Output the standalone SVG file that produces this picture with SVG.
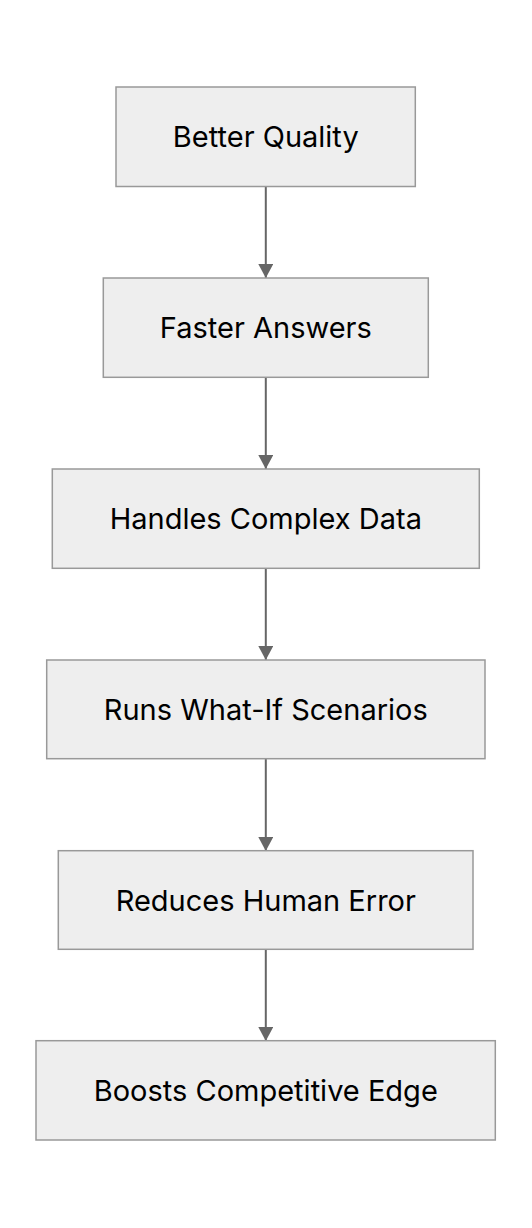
<svg xmlns="http://www.w3.org/2000/svg" width="532" height="1228" viewBox="0 0 532 1228">
<style>
.node rect{fill:#eeeeee;stroke:#999999;stroke-width:1.5}
.node text{font-family:Inter,"Noto Sans","Liberation Sans",sans-serif;font-size:29px;fill:#000000;text-anchor:middle}
.edge{stroke:#666666;stroke-width:2;fill:none}
</style>
<defs>
<marker id="arrow" markerUnits="userSpaceOnUse" markerWidth="16" markerHeight="16" refX="14" refY="7.5" orient="auto">
<path d="M0,0 L14,7.5 L0,15 Z" fill="#666666"/>
</marker>
</defs>
<rect width="532" height="1228" fill="#ffffff"/>
<g id="connectors">
<line class="edge" x1="265.8" y1="187" x2="265.8" y2="278" marker-end="url(#arrow)"/>
<line class="edge" x1="265.8" y1="378" x2="265.8" y2="469" marker-end="url(#arrow)"/>
<line class="edge" x1="265.8" y1="568.5" x2="265.8" y2="660" marker-end="url(#arrow)"/>
<line class="edge" x1="265.8" y1="759" x2="265.8" y2="851" marker-end="url(#arrow)"/>
<line class="edge" x1="265.8" y1="949.5" x2="265.8" y2="1041" marker-end="url(#arrow)"/>
</g>
<g id="n1" class="node"><rect x="116" y="87" width="299.3" height="99.5"/><text x="265.8" y="147">Better Quality</text></g>
<g id="n2" class="node"><rect x="103.3" y="278" width="325" height="99.3"/><text x="265.8" y="338">Faster Answers</text></g>
<g id="n3" class="node"><rect x="52.3" y="469" width="427" height="99.3"/><text x="265.8" y="529">Handles Complex Data</text></g>
<g id="n4" class="node"><rect x="46.7" y="660" width="438.3" height="98.7"/><text x="265.8" y="720">Runs What-If Scenarios</text></g>
<g id="n5" class="node"><rect x="58.3" y="850.7" width="414.7" height="98.6"/><text x="265.8" y="910.5">Reduces Human Error</text></g>
<g id="n6" class="node"><rect x="36" y="1040.7" width="459.3" height="99.3"/><text x="265.8" y="1101">Boosts Competitive Edge</text></g>
</svg>
